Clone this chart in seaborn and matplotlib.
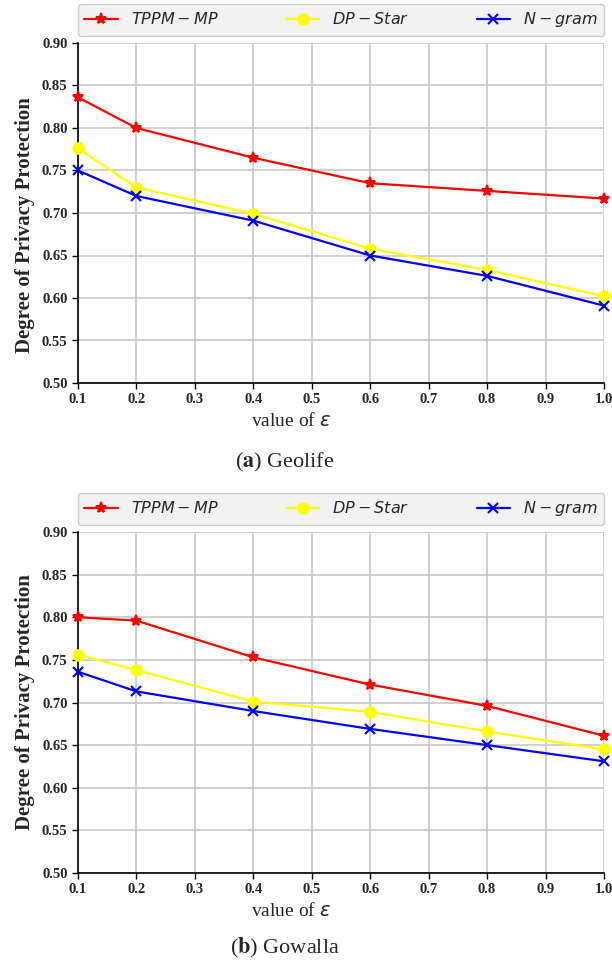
import matplotlib
matplotlib.use("Agg")
import matplotlib.pyplot as plt
import seaborn as sns
import pandas as pd

eps = [0.1, 0.2, 0.4, 0.6, 0.8, 1.0]
geo_tppm = [0.836, 0.800, 0.765, 0.735, 0.726, 0.717]
geo_dp = [0.776, 0.730, 0.699, 0.658, 0.633, 0.602]
geo_ngram = [0.750, 0.720, 0.691, 0.650, 0.626, 0.591]
gow_tppm = [0.800, 0.796, 0.753, 0.721, 0.696, 0.661]
gow_dp = [0.756, 0.738, 0.701, 0.689, 0.666, 0.645]
gow_ngram = [0.736, 0.713, 0.690, 0.669, 0.650, 0.631]
labels = ["$TPPM-MP$", "$DP-Star$", "$N-gram$"]
xticks = [0.1, 0.2, 0.3, 0.4, 0.5, 0.6, 0.7, 0.8, 0.9, 1.0]
yticks = [0.50, 0.55, 0.60, 0.65, 0.70, 0.75, 0.80, 0.85, 0.90]
captions = [("a", "Geolife"), ("b", "Gowalla")]

sns.set_style("white")
plt.rcParams["font.family"] = ["Liberation Serif", "DejaVu Serif"]
plt.rcParams["mathtext.fontset"] = "dejavusans"

fig = plt.figure(figsize=(6.12, 9.66), dpi=100)
W, H = 612, 966
axes_px = [(43, 383), (532, 873)]
colors = ["red", "yellow", "blue"]
markers = ["*", "o", "x"]
msizes = [8, 7.5, 7]
datasets = [(geo_tppm, geo_dp, geo_ngram), (gow_tppm, gow_dp, gow_ngram)]

for i, ((top, bot), series, (cl, cname)) in enumerate(zip(axes_px, datasets, captions)):
    ax = fig.add_axes([78 / W, 1 - bot / H, (604 - 78) / W, (bot - top) / H])
    for vals, lab, c, m, ms in zip(series, labels, colors, markers, msizes):
        df = pd.DataFrame({"eps": eps, "val": vals})
        sns.lineplot(data=df, x="eps", y="val", ax=ax, color=c, marker=m,
                     markersize=ms, markeredgecolor=c, markeredgewidth=1.5,
                     linewidth=1.6, label=lab, clip_on=False, zorder=3)
    ax.set_xlim(0.1, 1.0)
    ax.set_ylim(0.5, 0.9)
    ax.set_xticks(xticks)
    ax.set_yticks(yticks)
    ax.set_xticklabels([f"{v:.1f}" for v in xticks], fontsize=10.5, fontweight="bold")
    ax.set_yticklabels([f"{v:.2f}" for v in yticks], fontsize=10.5, fontweight="bold")
    ax.grid(True, color="#c4c4c4", linewidth=1.1)
    ax.set_axisbelow(True)
    for s in ["top", "right"]:
        ax.spines[s].set_visible(False)
    for s in ["left", "bottom"]:
        ax.spines[s].set_color("black")
        ax.spines[s].set_linewidth(1.2)
    ax.tick_params(axis="both", which="both", direction="out", length=4.5,
                   width=1, color="black", bottom=True, left=True, pad=3)
    ax.set_xlabel("value of $\\varepsilon$", fontsize=14)
    ax.xaxis.set_label_coords((291 - 78) / 526, -0.085)
    ax.set_ylabel("Degree of Privacy Protection", fontsize=15, fontweight="bold")
    ax.yaxis.set_label_coords(-0.082, 0.465 if i == 0 else 0.5)
    leg = ax.legend(loc="lower left", bbox_to_anchor=(0.0, 1.021, 1.0, 0.079),
                    mode="expand", ncol=3, frameon=True,
                    facecolor="#f2f2f2", edgecolor="#cccccc", borderaxespad=0,
                    handlelength=2.1, fancybox=True,
                    prop={"family": "DejaVu Sans", "size": 11.5})
    leg.get_frame().set_alpha(1)
    cap_y = 462 if i == 0 else 948
    fig.text(285 / W, 1 - cap_y / H, f"($\\mathbf{{{cl}}}$) {cname}", ha="center", va="center",
             fontsize=16, family=["Liberation Serif", "DejaVu Serif"], math_fontfamily="stix")

fig.savefig("out.png", dpi=100)
